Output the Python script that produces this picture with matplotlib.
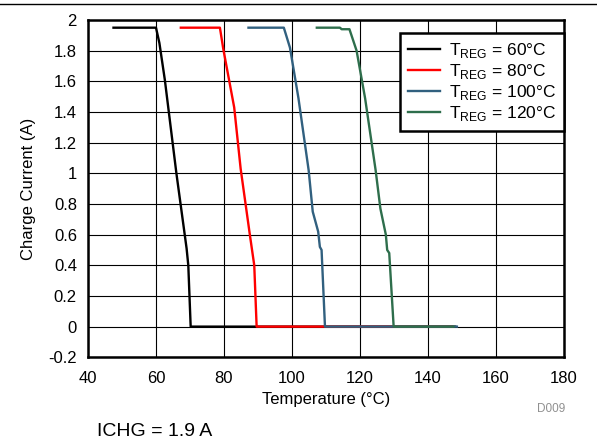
import matplotlib
matplotlib.use("Agg")
import matplotlib.pyplot as plt
from matplotlib.lines import Line2D
import matplotlib.ticker as ticker

plt.rcParams['font.family'] = ['Liberation Sans', 'DejaVu Sans']
plt.rcParams['mathtext.fontset'] = 'custom'
plt.rcParams['mathtext.rm'] = 'Liberation Sans'

# curves (temperature degC, charge current A)
t60 = [47.5, 60.0, 61.0, 62.6, 66.0, 69.0, 69.5, 70.2, 148.0]
i60 = [1.95, 1.95, 1.85, 1.61, 1.00, 0.51, 0.40, 0.0, 0.0]
t80 = [67.3, 78.8, 79.8, 83.0, 84.9, 87.6, 88.9, 89.6, 147.0]
i80 = [1.95, 1.95, 1.81, 1.43, 1.03, 0.60, 0.40, 0.0, 0.0]
t100 = [87.2, 97.6, 99.4, 101.9, 104.9, 106.1, 107.7, 108.2, 108.7, 109.7, 148.5]
i100 = [1.95, 1.95, 1.82, 1.49, 1.02, 0.75, 0.62, 0.52, 0.50, 0.0, 0.0]
t120 = [107.3, 114.1, 114.6, 116.9, 119.0, 121.5, 124.6, 126.0, 127.6, 128.0, 128.6, 129.9, 147.5]
i120 = [1.95, 1.95, 1.94, 1.94, 1.80, 1.49, 1.02, 0.77, 0.60, 0.50, 0.48, 0.0, 0.0]
names = ['60', '80', '100', '120']
colors = ['black', '#ff0000', '#31607f', '#2e6e4c']

fig = plt.figure(figsize=(5.97, 4.40), dpi=100)
ax = fig.add_axes([0.1474, 0.188, 0.7973, 0.7665])

for t, i, nm, c in zip([t60, t80, t100, t120], [i60, i80, i100, i120], names, colors):
    ax.plot(t, i, color=c, lw=1.7, label=r'T$_{\mathrm{REG}}$ = ' + nm + '\u00b0C', zorder=3)

ax.set_xlim(40, 180)
ax.set_ylim(-0.2, 2)
ax.xaxis.set_major_locator(ticker.MultipleLocator(20))
ax.yaxis.set_major_locator(ticker.MultipleLocator(0.2))
ax.yaxis.set_major_formatter(ticker.FuncFormatter(lambda v, p: '%g' % round(v, 1)))
ax.tick_params(length=0, labelsize=12, pad=10)
ax.tick_params(axis='y', pad=8)
ax.grid(True, color='black', lw=0.8)
for s in ax.spines.values():
    s.set_linewidth(1.8)

ax.set_xlabel('Temperature (\u00b0C)', fontsize=12, labelpad=4)
ax.set_ylabel('Charge Current (A)', fontsize=12, labelpad=9)

leg = ax.legend(loc='upper right', bbox_to_anchor=(1.0, 0.9615), borderaxespad=0,
                fontsize=12.5, handlelength=1.85, handletextpad=0.5, borderpad=0.45,
                labelspacing=0.12, fancybox=False, framealpha=1)
leg.get_frame().set_edgecolor('black')
leg.get_frame().set_linewidth(1.8)

fig.text(0.946, 0.064, 'D009', fontsize=8.5, color='#909090', ha='right')
fig.text(0.163, 0.008, 'ICHG = 1.9 A', fontsize=14)
fig.add_artist(Line2D([0, 1], [0.991, 0.991], color='black', lw=1.0, transform=fig.transFigure))

fig.savefig('out.png', dpi=100)
